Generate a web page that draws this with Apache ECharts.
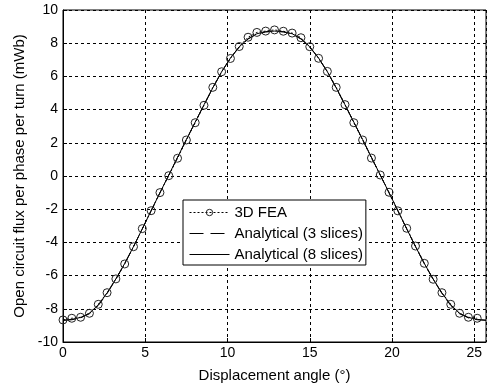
<!DOCTYPE html>
<html>
<head>
<meta charset="utf-8">
<script src="https://cdn.jsdelivr.net/npm/echarts@6/dist/echarts.min.js"></script>
<style>html,body{margin:0;padding:0;background:#fff}#c{width:492px;height:388px}</style>
</head>
<body>
<div id="c"></div>
<script>
const xAngle = [0, 0.536, 1.071, 1.607, 2.143, 2.679, 3.214, 3.750, 4.286, 4.821, 5.357, 5.893,
  6.429, 6.964, 7.500, 8.036, 8.571, 9.107, 9.643, 10.179, 10.714, 11.250, 11.786, 12.321,
  12.857, 13.393, 13.929, 14.464, 15.000, 15.536, 16.071, 16.607, 17.143, 17.679, 18.214, 18.750,
  19.286, 19.821, 20.357, 20.893, 21.429, 21.964, 22.500, 23.036, 23.571, 24.107, 24.643, 25.179, 25.714];
const fea = [-8.67, -8.57, -8.51, -8.27, -7.73, -7.03, -6.20, -5.30, -4.26, -3.17, -2.09, -1.00,
  0.02, 1.07, 2.17, 3.21, 4.26, 5.34, 6.28, 7.08, 7.80, 8.36, 8.65, 8.73,
  8.80, 8.72, 8.61, 8.33, 7.79, 7.09, 6.30, 5.34, 4.30, 3.21, 2.17, 1.08,
  0.06, -0.98, -2.10, -3.15, -4.22, -5.26, -6.22, -7.03, -7.73, -8.27, -8.51, -8.57];
const analytical3 = [-8.70, -8.66, -8.55, -8.30, -7.80, -7.08, -6.22, -5.28, -4.26, -3.19, -2.10, -1.02,
  0.05, 1.12, 2.19, 3.24, 4.28, 5.30, 6.27, 7.10, 7.77, 8.25, 8.55, 8.68,
  8.72, 8.68, 8.55, 8.25, 7.77, 7.10, 6.27, 5.30, 4.28, 3.24, 2.19, 1.12,
  0.05, -1.02, -2.10, -3.19, -4.26, -5.28, -6.22, -7.08, -7.80, -8.30, -8.55, -8.66, -8.70];
const analytical8 = [-8.68, -8.64, -8.52, -8.27, -7.77, -7.05, -6.20, -5.27, -4.25, -3.18, -2.09, -1.01,
  0.06, 1.13, 2.20, 3.25, 4.29, 5.31, 6.28, 7.11, 7.78, 8.27, 8.57, 8.69,
  8.73, 8.69, 8.57, 8.27, 7.78, 7.11, 6.28, 5.31, 4.29, 3.25, 2.20, 1.13,
  0.06, -1.01, -2.09, -3.18, -4.25, -5.27, -6.20, -7.05, -7.77, -8.27, -8.52, -8.64, -8.68];
const seriesNames = ['3D FEA', 'Analytical (3 slices)', 'Analytical (8 slices)'];

const pair = (xs, ys) => ys.map((y, i) => [xs[i], y]);
const font = 'Liberation Sans, Arial, sans-serif';
const hidden = {color: 'rgba(0,0,0,0)', borderColor: 'rgba(0,0,0,0)', borderWidth: 0};
const chart = echarts.init(document.getElementById('c'), null, {renderer: 'canvas'});
chart.setOption({
  animation: false,
  backgroundColor: '#fff',
  textStyle: {fontFamily: font, color: '#000'},
  grid: {left: 63, top: 10, right: 6, bottom: 46, show: true, borderColor: '#000', borderWidth: 1, backgroundColor: 'transparent'},
  xAxis: {
    type: 'value', min: 0, max: 25.714, interval: 5,
    name: 'Displacement angle (°)', nameLocation: 'middle', nameGap: 26,
    nameTextStyle: {fontSize: 15, color: '#000', fontFamily: font},
    axisLine: {show: true, onZero: false, lineStyle: {color: '#000'}},
    axisTick: {show: true, inside: true, length: 4, lineStyle: {color: '#000'}},
    axisLabel: {fontSize: 14, color: '#000', fontFamily: font, margin: 4, showMaxLabel: false},
    splitLine: {show: true, lineStyle: {color: '#000', type: [3, 3], width: 1}}
  },
  yAxis: {
    type: 'value', min: -10, max: 10, interval: 2,
    name: 'Open circuit flux per phase per turn (mWb)', nameLocation: 'middle', nameGap: 34,
    nameTextStyle: {fontSize: 15, color: '#000', fontFamily: font},
    axisLine: {show: true, lineStyle: {color: '#000'}},
    axisTick: {show: true, inside: true, length: 4, lineStyle: {color: '#000'}},
    axisLabel: {fontSize: 14, color: '#000', fontFamily: font, margin: 5},
    splitLine: {show: true, lineStyle: {color: '#000', type: [3, 3], width: 1}}
  },
  legend: {
    left: 183, top: 200, orient: 'vertical',
    backgroundColor: '#fff', borderColor: '#000', borderWidth: 1,
    padding: [5, 3, 3, 6], itemGap: 6, itemWidth: 40, itemHeight: 8,
    textStyle: {fontSize: 15, lineHeight: 15, color: '#000', fontFamily: font},
    data: [
      {name: seriesNames[0], lineStyle: {width: 1, type: [2, 2], color: '#000'}, itemStyle: {color: 'rgba(255,255,255,0)', borderColor: '#222', borderWidth: 1}},
      {name: seriesNames[1], itemStyle: hidden, lineStyle: {width: 1, type: [14, 7], color: '#000'}},
      {name: seriesNames[2], itemStyle: hidden, lineStyle: {width: 1, type: 'solid', color: '#000'}}
    ]
  },
  series: [
    {
      name: seriesNames[1], type: 'line', data: pair(xAngle, analytical3),
      showSymbol: false, symbol: 'circle',
      lineStyle: {color: '#000', width: 1, type: [12, 6]}, itemStyle: {color: '#000'}
    },
    {
      name: seriesNames[2], type: 'line', data: pair(xAngle, analytical8),
      showSymbol: false, symbol: 'circle',
      lineStyle: {color: '#000', width: 1, type: 'solid'}, itemStyle: {color: '#000'}
    },
    {
      name: seriesNames[0], type: 'line', data: pair(xAngle, fea),
      symbol: 'circle', symbolSize: 8,
      lineStyle: {color: '#000', width: 1, type: [2, 2]},
      itemStyle: {color: 'rgba(255,255,255,0)', borderColor: '#222', borderWidth: 1}
    }
  ]
});
</script>
</body>
</html>
